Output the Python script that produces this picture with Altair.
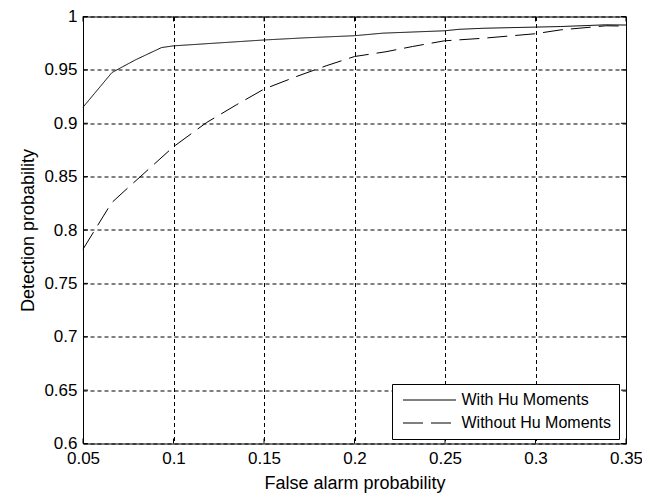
import altair as alt
import pandas as pd

# ---- data ----
with_x = [0.05, 0.066, 0.079, 0.0934, 0.1, 0.15, 0.1724, 0.2, 0.2157, 0.2496,
          0.2578, 0.2716, 0.314, 0.3387, 0.35]
with_y = [0.915, 0.9475, 0.9594, 0.9709, 0.9725, 0.978, 0.980, 0.982, 0.9844, 0.9866,
          0.988, 0.989, 0.9906, 0.9922, 0.992]

without_x = [0.05, 0.0658, 0.0732, 0.1, 0.1182, 0.1347, 0.15, 0.1678, 0.1843, 0.2,
             0.2174, 0.2321, 0.2496, 0.2716, 0.2996, 0.314, 0.324, 0.3388, 0.35]
without_y = [0.782, 0.8255, 0.837, 0.878, 0.9006, 0.9172, 0.932, 0.9437, 0.9538, 0.9625,
             0.967, 0.9719, 0.9772, 0.9797, 0.9838, 0.9875, 0.989, 0.9913, 0.991]

series_names = ["With Hu Moments", "Without Hu Moments"]
x_ticks = [0.05, 0.1, 0.15, 0.2, 0.25, 0.3, 0.35]
y_ticks = [0.6, 0.65, 0.7, 0.75, 0.8, 0.85, 0.9, 0.95, 1.0]

rows = []
for i, (xv, yv) in enumerate(zip(with_x, with_y)):
    rows.append({"x": xv, "y": yv, "series": series_names[0], "order": i})
for i, (xv, yv) in enumerate(zip(without_x, without_y)):
    rows.append({"x": xv, "y": yv, "series": series_names[1], "order": i})
df = pd.DataFrame(rows)

W, H = 543, 427
FONT = "Liberation Sans"
TICK = 5

xscale = alt.Scale(domain=[0.05, 0.35], nice=False, zero=False)
yscale = alt.Scale(domain=[0.6, 1.0], nice=False, zero=False)

xaxis = alt.Axis(values=x_ticks, format=".2~f", title="False alarm probability",
                 grid=True, gridColor="black", gridDash=[4, 3], gridWidth=1, gridOpacity=1,
                 ticks=False, tickSize=0, domain=False, labelPadding=7,
                 labelFontSize=17, labelFont=FONT, labelColor="black",
                 labelFlush=False, labelOverlap=False,
                 titleFontSize=18, titleFont=FONT, titleFontWeight="normal",
                 titleColor="black", titleBaseline="alphabetic", titleY=45)
yaxis = alt.Axis(values=y_ticks, format=".2~f", title="Detection probability",
                 grid=True, gridColor="black", gridDash=[4, 3], gridWidth=1, gridOpacity=1,
                 ticks=False, tickSize=0, domain=False, labelPadding=6,
                 labelFontSize=17, labelFont=FONT, labelColor="black",
                 labelFlush=False, labelOverlap=False,
                 titleFontSize=18, titleFont=FONT, titleFontWeight="normal",
                 titleColor="black", titleBaseline="alphabetic", titleX=-50)

lines = alt.Chart(df).mark_line(color="black", strokeWidth=1).encode(
    x=alt.X("x:Q", scale=xscale, axis=xaxis),
    y=alt.Y("y:Q", scale=yscale, axis=yaxis),
    order="order:Q",
    strokeDash=alt.StrokeDash(
        "series:N",
        scale=alt.Scale(domain=series_names, range=[[1, 0], [20, 8]]),
        legend=alt.Legend(
            title=None, orient="none", legendX=309, legendY=367.5,
            symbolType="M-1,0H9.6", symbolSize=100, symbolStrokeColor="black",
            symbolStrokeWidth=1, symbolFillColor="transparent",
            labelOffset=45.5, labelFontSize=16, labelFont=FONT, labelColor="black",
            padding=8, rowPadding=7, strokeColor="black", fillColor="white",
            cornerRadius=0, labelLimit=300,
        ),
    ),
)

xt = pd.DataFrame({"v": x_ticks})
yt = pd.DataFrame({"v": y_ticks})

bottom_ticks = alt.Chart(xt).mark_rule(color="black", strokeWidth=1).encode(
    x=alt.X("v:Q", scale=xscale), y=alt.value(H), y2=alt.value(H - TICK))
top_ticks = alt.Chart(xt).mark_rule(color="black", strokeWidth=1).encode(
    x=alt.X("v:Q", scale=xscale), y=alt.value(0), y2=alt.value(TICK))
left_ticks = alt.Chart(yt).mark_rule(color="black", strokeWidth=1).encode(
    y=alt.Y("v:Q", scale=yscale), x=alt.value(0), x2=alt.value(TICK))
right_ticks = alt.Chart(yt).mark_rule(color="black", strokeWidth=1).encode(
    y=alt.Y("v:Q", scale=yscale), x=alt.value(W), x2=alt.value(W - TICK))

chart = alt.layer(bottom_ticks, top_ticks, left_ticks, right_ticks, lines).properties(
    width=W, height=H,
    autosize=alt.AutoSizeParams(type="none"),
    padding={"left": 75, "top": 8.5, "right": 16, "bottom": 50},
    background="white",
).configure_view(stroke="black", strokeWidth=1)

chart.save("out.html", embed_options={"renderer": "svg", "actions": False})
